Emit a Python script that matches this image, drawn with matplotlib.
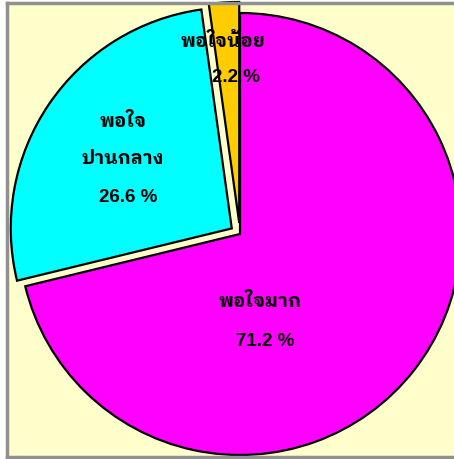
import matplotlib
matplotlib.use('Agg')
import matplotlib.pyplot as plt

labels = ['พอใจมาก', 'พอใจ\nปานกลาง', 'พอใจน้อย']
values = [71.2, 26.6, 2.2]
colors = ['#FF00FF', '#00FFFF', '#FFCC00']
explode = [0, 0.045, 0.05]

plt.rcParams['font.family'] = ['Liberation Sans', 'IBM Plex Sans Thai Looped', 'Loma', 'DejaVu Sans']

fig = plt.figure(figsize=(4.54, 4.59), dpi=100)
fig.patch.set_facecolor('white')
r = 221.0
ax = fig.add_axes([7 / 454, 2 / 459, 497 / 454, 454 / 459])
ax.pie(values, colors=colors, explode=explode, startangle=90, counterclock=False,
       wedgeprops=dict(edgecolor='black', linewidth=1.6))
ax.set_aspect('auto')
ax.set_xlim((7 - 240) / r, (504 - 240) / r)
ax.set_ylim(-(457 - 234) / r, (234 - 3) / r)
ax.set_frame_on(True)
ax.set_facecolor('#FFFFCC')
ax.set_xticks([])
ax.set_yticks([])
for s in ax.spines.values():
    s.set_color('#909090')
    s.set_linewidth(2.5)

def px(x, y):
    return (x - 240) / r, (234 - y) / r

kw = dict(ha='center', va='center', fontsize=13.5, fontweight='bold', color='black')
# magenta
ax.text(*px(260, 302), labels[0], **kw)
ax.text(*px(265, 342), f'{values[0]} %', **kw)
# cyan
ax.text(*px(123, 122), labels[1].split('\n')[0], **kw)
ax.text(*px(123, 160), labels[1].split('\n')[1], **kw)
ax.text(*px(128, 198), f'{values[1]} %', **kw)
# gold
ax.text(*px(223, 42), labels[2], **kw)
ax.text(*px(236, 78), f'{values[2]} %', **kw)

fig.savefig('out.png', dpi=100)
